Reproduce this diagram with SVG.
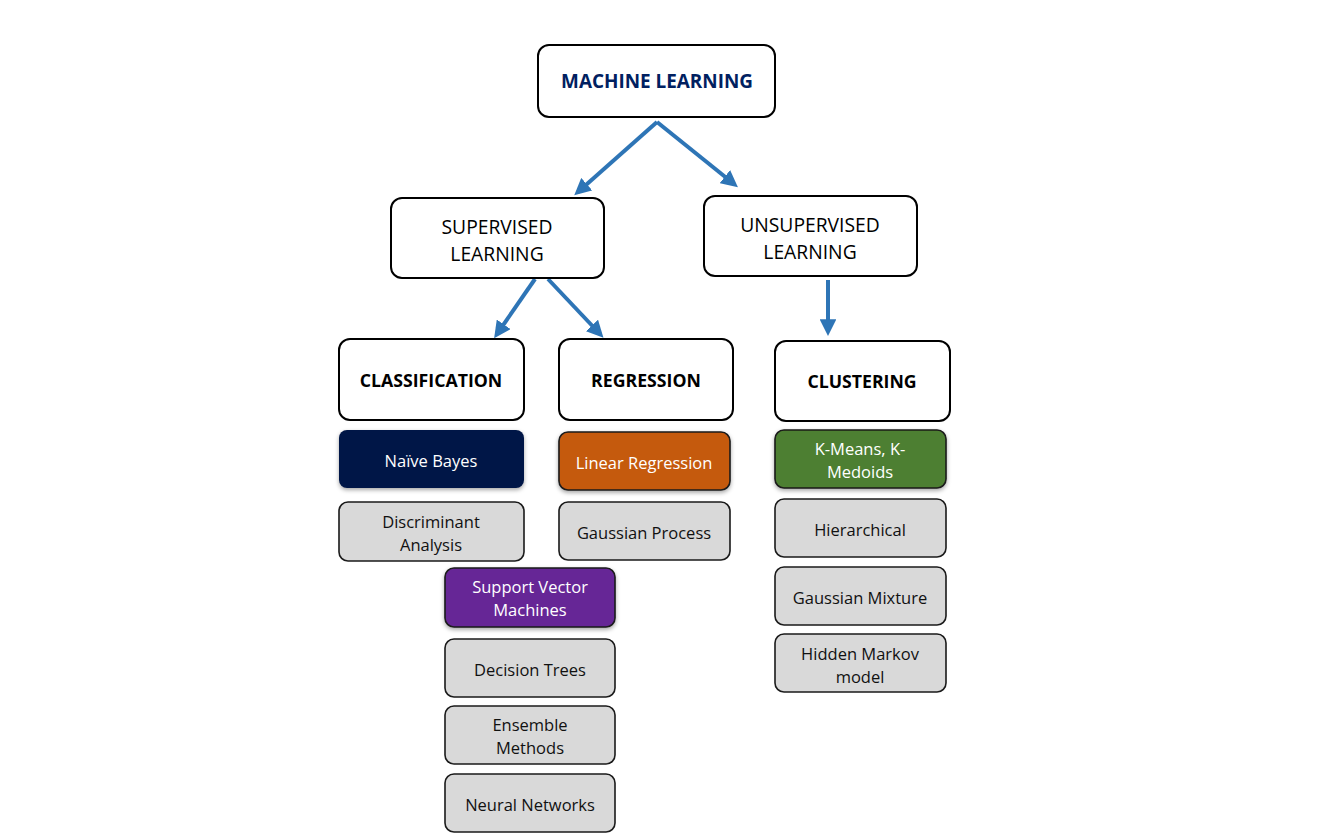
<svg xmlns="http://www.w3.org/2000/svg" width="1341" height="839" viewBox="0 0 1341 839">
<style>
text{font-family:"Open Sans","Liberation Sans",sans-serif;text-anchor:middle;dominant-baseline:central}
.hdr{fill:#fff;stroke:#000;stroke-width:2}
.leaf{fill:#d9d9d9;stroke:#1a1a1a;stroke-width:1.6}
.col{stroke:#1a1a1a;stroke-width:1.6}
.tb{font-size:17.7px;font-weight:bold;fill:#000}
.tl{font-size:19.3px;fill:#000}
.w{font-size:16.5px;fill:#fff}
.g{font-size:16.5px;fill:#111}
.conn line{stroke:#2E75B6;stroke-width:4;marker-end:url(#ah)}
</style>
<defs>
<marker id="ah" viewBox="0 0 10 10" refX="7" refY="5" markerWidth="4.2" markerHeight="4.2" orient="auto" markerUnits="strokeWidth">
<path d="M0,0 L10,5 L0,10 z" fill="#2E75B6"/>
</marker>
<filter id="sh" x="-10%" y="-20%" width="120%" height="150%">
<feDropShadow dx="0" dy="2" stdDeviation="2" flood-color="#000" flood-opacity="0.35"/>
</filter>
</defs>
<rect width="1341" height="839" fill="#fff"/>
<g id="connectors" class="conn">
<line x1="657" y1="122" x2="578" y2="192"/>
<line x1="657" y1="122" x2="734" y2="184"/>
<line x1="535" y1="279" x2="497" y2="334"/>
<line x1="548" y1="279" x2="600" y2="334"/>
<line x1="828" y1="280" x2="828" y2="331"/>
</g>
<g id="machine-learning"><rect class="hdr" x="538" y="45" width="237" height="72" rx="11"/><text x="657" y="81" style="font-size:18.9px;font-weight:bold;fill:#002060">MACHINE LEARNING</text></g>
<g id="supervised"><rect class="hdr" x="391" y="198" width="213" height="80" rx="11"/><text class="tl" x="497" y="226">SUPERVISED</text><text class="tl" x="497" y="253">LEARNING</text></g>
<g id="unsupervised"><rect class="hdr" x="704" y="196" width="213" height="80" rx="11"/><text class="tl" x="810" y="224">UNSUPERVISED</text><text class="tl" x="810" y="251">LEARNING</text></g>
<g id="classification"><rect class="hdr" x="339" y="339" width="185" height="81" rx="11"/><text class="tb" x="431" y="380">CLASSIFICATION</text></g>
<g id="regression"><rect class="hdr" x="559" y="339" width="174" height="81" rx="11"/><text class="tb" x="646" y="380">REGRESSION</text></g>
<g id="clustering"><rect class="hdr" x="775" y="341" width="175" height="80" rx="11"/><text class="tb" x="862" y="381">CLUSTERING</text></g>
<g id="naive-bayes"><rect x="339" y="430" width="185" height="58" rx="8" fill="#011846" filter="url(#sh)"/><text class="w" x="431" y="460">Naïve Bayes</text></g>
<g id="discriminant"><rect class="leaf" x="339" y="502" width="185" height="59" rx="9"/><text class="g" x="431" y="521">Discriminant</text><text class="g" x="431" y="544">Analysis</text></g>
<g id="linear-regression"><rect class="col" x="559" y="432" width="171" height="58" rx="9" fill="#C55A11" filter="url(#sh)"/><text class="w" x="644" y="462">Linear Regression</text></g>
<g id="gaussian-process"><rect class="leaf" x="559" y="502" width="171" height="58" rx="9"/><text class="g" x="644" y="532">Gaussian Process</text></g>
<g id="svm"><rect class="col" x="445" y="568" width="170" height="59" rx="9" fill="#662796" filter="url(#sh)"/><text class="w" x="530" y="586">Support Vector</text><text class="w" x="530" y="609">Machines</text></g>
<g id="decision-trees"><rect class="leaf" x="445" y="639" width="170" height="58" rx="9"/><text class="g" x="530" y="669">Decision Trees</text></g>
<g id="ensemble"><rect class="leaf" x="445" y="706" width="170" height="58" rx="9"/><text class="g" x="530" y="724">Ensemble</text><text class="g" x="530" y="747">Methods</text></g>
<g id="neural-networks"><rect class="leaf" x="445" y="774" width="170" height="58" rx="9"/><text class="g" x="530" y="804">Neural Networks</text></g>
<g id="kmeans"><rect class="col" x="775" y="430" width="171" height="58" rx="9" fill="#4E7F30" filter="url(#sh)"/><text class="w" x="860" y="448">K-Means, K-</text><text class="w" x="860" y="471">Medoids</text></g>
<g id="hierarchical"><rect class="leaf" x="775" y="499" width="171" height="58" rx="9"/><text class="g" x="860" y="529">Hierarchical</text></g>
<g id="gaussian-mixture"><rect class="leaf" x="775" y="567" width="171" height="58" rx="9"/><text class="g" x="860" y="597">Gaussian Mixture</text></g>
<g id="hidden-markov"><rect class="leaf" x="775" y="634" width="171" height="58" rx="9"/><text class="g" x="860" y="653">Hidden Markov</text><text class="g" x="860" y="676">model</text></g>
</svg>
